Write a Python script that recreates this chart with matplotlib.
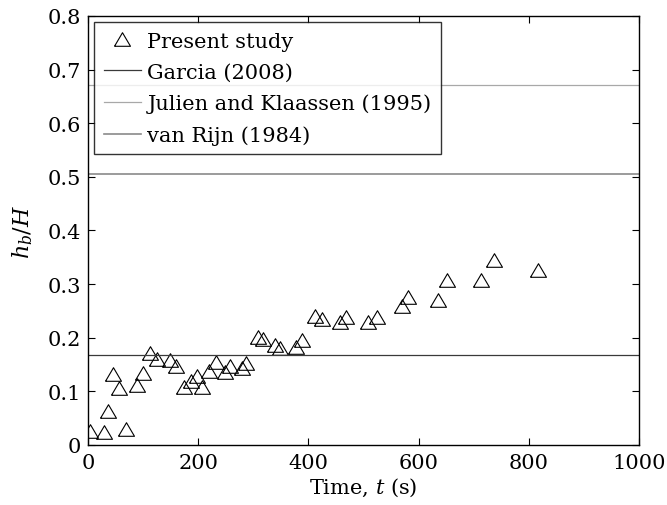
import matplotlib
matplotlib.use("Agg")
import matplotlib.pyplot as plt
import numpy as np

plt.rcParams['font.family'] = ['DejaVu Serif']
plt.rcParams['mathtext.fontset'] = 'dejavuserif'

# Data
time_s = [4, 29, 37, 46, 56, 68, 89, 99, 112, 125, 149, 160, 174, 186, 197, 206,
          219, 233, 248, 258, 279, 286, 308, 318, 339, 348, 377, 389, 412, 424,
          458, 469, 509, 524, 569, 581, 636, 651, 713, 736, 816]
hb_H = [0.027, 0.025, 0.064, 0.132, 0.106, 0.029, 0.112, 0.134, 0.172, 0.160,
        0.158, 0.148, 0.109, 0.119, 0.128, 0.109, 0.138, 0.155, 0.137, 0.147,
        0.144, 0.152, 0.201, 0.197, 0.186, 0.180, 0.182, 0.196, 0.241, 0.235,
        0.229, 0.239, 0.229, 0.238, 0.259, 0.276, 0.271, 0.307, 0.307, 0.344, 0.327]

ref_labels = ['Garcia (2008)', 'Julien and Klaassen (1995)', 'van Rijn (1984)']
ref_values = [0.167, 0.671, 0.505]
ref_colors = ['#3a3a3a', '#a8a8a8', '#8a8a8a']
ref_widths = [0.9, 0.9, 1.2]

x_ticks = [0, 200, 400, 600, 800, 1000]
y_ticks = [0, 0.1, 0.2, 0.3, 0.4, 0.5, 0.6, 0.7, 0.8]
y_tick_labels = ['0', '0.1', '0.2', '0.3', '0.4', '0.5', '0.6', '0.7', '0.8']

fig = plt.figure(figsize=(6.67, 5.06), dpi=100)
ax = fig.add_axes([0.132, 0.1186, 0.826, 0.848])

tri = [(-1, -0.85), (1, -0.85), (0, 0.85), (-1, -0.85)]
ax.plot(time_s, hb_H, linestyle='none', marker=tri, markersize=11.5,
        markerfacecolor='none', markeredgecolor='black', markeredgewidth=0.8,
        label='Present study')
for lab, v, c, w in zip(ref_labels, ref_values, ref_colors, ref_widths):
    ax.axhline(v, color=c, linewidth=w, label=lab)

ax.set_xlim(0, 1000)
ax.set_ylim(0, 0.8)
ax.set_xticks(x_ticks)
ax.set_yticks(y_ticks)
ax.set_yticklabels(y_tick_labels)
ax.tick_params(direction='in', top=True, right=True, length=5, width=0.8,
               labelsize=15)
ax.tick_params(axis='x', pad=6)
ax.tick_params(axis='y', pad=5)
for s in ax.spines.values():
    s.set_linewidth(1.0)

ax.set_xlabel('Time, $t$ (s)', fontsize=15, labelpad=2)
ax.set_ylabel('$h_b/H$', fontsize=16, labelpad=9)

leg = ax.legend(loc='upper left', fontsize=15, frameon=True, fancybox=False,
                edgecolor='black', handlelength=1.8, handletextpad=0.3,
                borderpad=0.45, labelspacing=0.58, borderaxespad=0.3)
leg.get_frame().set_linewidth(1.0)

fig.savefig('out.png', dpi=100)
